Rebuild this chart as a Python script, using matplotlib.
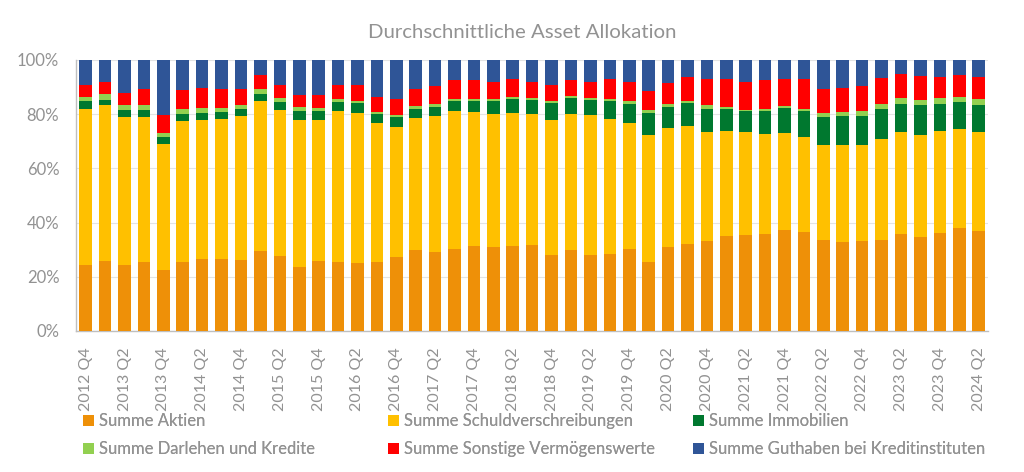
import matplotlib
matplotlib.use("Agg")
import matplotlib.pyplot as plt
import numpy as np

quarters = []
for y in range(2012, 2025):
    for q in range(1, 5):
        if (y == 2012 and q < 4) or (y == 2024 and q > 2):
            continue
        quarters.append(f"{y} Q{q}")

aktien = [24.2, 25.9, 24.2, 25.6, 22.6, 25.4, 26.5, 26.5, 26.1, 29.4, 27.5, 23.7, 25.8, 25.4, 25.0, 25.4,
          27.1, 29.7, 29.2, 30.4, 31.5, 30.8, 31.2, 31.7, 28.0, 29.7, 28.1, 28.2, 30.3, 25.6, 31.0, 31.9,
          33.3, 35.0, 35.3, 35.6, 37.4, 36.4, 33.4, 32.8, 33.1, 33.7, 35.8, 34.6, 36.1, 37.8, 36.8]
schuld = [57.8, 57.3, 54.9, 53.5, 46.5, 51.9, 51.4, 51.7, 53.3, 55.3, 54.1, 54.2, 52.1, 55.9, 55.6, 51.2,
          48.2, 48.7, 50.1, 50.6, 49.2, 49.4, 49.2, 48.5, 49.9, 50.4, 51.4, 50.0, 46.4, 46.8, 43.8, 43.6,
          40.0, 38.9, 38.0, 37.0, 35.6, 35.0, 35.2, 35.7, 35.6, 37.2, 37.5, 37.8, 37.8, 36.7, 36.6]
immob = [2.7, 2.1, 2.5, 2.4, 2.3, 2.8, 2.7, 2.7, 2.6, 2.9, 2.9, 3.1, 3.2, 3.2, 3.4, 3.3,
         3.6, 3.4, 3.4, 3.7, 4.3, 4.6, 5.0, 5.1, 6.1, 5.8, 5.8, 6.5, 7.1, 8.2, 8.0, 8.5,
         8.7, 7.9, 7.8, 8.7, 9.1, 9.6, 10.4, 10.8, 10.6, 10.9, 10.6, 10.8, 10.0, 10.0, 9.9]
darlehen = [1.8, 2.2, 1.7, 1.8, 1.7, 1.9, 1.6, 1.4, 1.4, 1.6, 1.5, 1.5, 1.0, 1.1, 1.0, 1.0,
            0.9, 1.3, 1.1, 0.9, 0.5, 0.7, 0.9, 0.7, 0.8, 0.8, 0.7, 0.8, 0.9, 0.9, 1.0, 1.0,
            1.3, 0.8, 0.5, 0.7, 0.8, 0.8, 1.4, 1.6, 1.9, 2.0, 2.1, 2.1, 2.0, 1.9, 2.3]
sonstige = [4.4, 4.5, 4.6, 6.1, 6.4, 7.0, 7.6, 7.0, 5.9, 5.2, 4.8, 4.5, 5.1, 5.0, 5.6, 5.5,
            5.6, 6.0, 6.4, 6.9, 7.0, 6.5, 6.5, 6.0, 6.0, 5.8, 5.9, 7.3, 7.1, 7.1, 7.7, 8.6,
            9.7, 10.2, 10.4, 10.5, 10.1, 11.1, 8.9, 8.8, 9.0, 9.6, 8.7, 8.6, 7.8, 8.0, 8.0]
guthaben = [9.1, 8.0, 12.1, 10.6, 20.5, 11.0, 10.2, 10.7, 10.7, 5.6, 9.2, 13.0, 12.8, 9.4, 9.4, 13.6,
            14.6, 10.9, 9.8, 7.5, 7.5, 8.0, 7.2, 8.0, 9.2, 7.5, 8.1, 7.2, 8.2, 11.4, 8.5, 6.4,
            7.0, 7.2, 8.0, 7.5, 7.0, 7.1, 10.7, 10.3, 9.8, 6.6, 5.3, 6.1, 6.3, 5.6, 6.4]

series = [
    ("Summe Aktien", aktien, "#EE9008"),
    ("Summe Schuldverschreibungen", schuld, "#FFC000"),
    ("Summe Immobilien", immob, "#00782F"),
    ("Summe Darlehen und Kredite", darlehen, "#92D050"),
    ("Summe Sonstige Vermögenswerte", sonstige, "#FF0000"),
    ("Summe Guthaben bei Kreditinstituten", guthaben, "#2F5597"),
]

plt.rcParams['font.family'] = ['Lato', 'DejaVu Sans']
gray = "#929292"

fig = plt.figure(figsize=(10.24, 4.72), dpi=100)
ax = fig.add_axes([0.0742, 0.299, 0.891, 0.574])

x = np.arange(len(quarters))
bottom = np.zeros(len(quarters))
handles = []
for name, vals, col in series:
    v = np.array(vals)
    b = ax.bar(x, v, 0.65, bottom=bottom, color=col, label=name, zorder=3)
    handles.append(b)
    bottom += v

ax.set_xlim(-0.5, len(quarters) - 0.5)
ax.set_ylim(0, 100)
ax.set_yticks(np.arange(0, 101, 20))
ax.set_yticklabels([f"{t}%" for t in range(0, 101, 20)], fontsize=12, color=gray)
ax.yaxis.grid(True, color="#E4E4E4", linewidth=0.8, zorder=0)
ax.set_xticks(x[::2])
ax.set_xticklabels(quarters[::2], rotation=90, fontsize=11.5, color=gray)
ax.tick_params(axis='x', length=0, pad=12)
ax.tick_params(axis='y', length=0, pad=12)
for s in ["top", "right"]:
    ax.spines[s].set_visible(False)
for s in ["left", "bottom"]:
    ax.spines[s].set_color("#BFBFBF")
    ax.spines[s].set_linewidth(1.0)

fig.text(0.51, 0.932, "Durchschnittliche Asset Allokation", ha="center", va="center",
         fontsize=14.7, color=gray)

col_x = [83 / 1024, 388 / 1024, 693 / 1024]
cols = [(0, 3), (1, 4), (2, 5)]
for cx, (i, j) in zip(col_x, cols):
    leg = fig.legend([handles[i], handles[j]], [series[i][0], series[j][0]],
                     loc="upper left", bbox_to_anchor=(cx, 1 - 413 / 472),
                     frameon=False, fontsize=12, handlelength=0.65, handleheight=0.65,
                     handletextpad=0.3, labelspacing=0.72, borderaxespad=0, borderpad=0)
    for t in leg.get_texts():
        t.set_color(gray)
    fig.add_artist(leg)

fig.savefig("out.png", dpi=100)
